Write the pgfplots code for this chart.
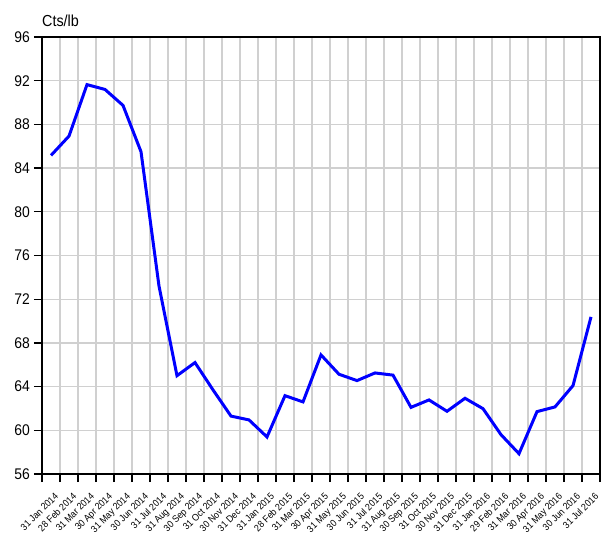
\documentclass[border=0pt]{standalone}
\usepackage{fontspec}
\setmainfont{Liberation Sans}[FakeStretch=0.9]
\usepackage{pgfplots}
\pgfplotsset{compat=1.18}
\definecolor{gridgray}{RGB}{208,208,208}
\begin{document}
\begin{tikzpicture}
\begin{axis}[
  name=ax,
  scale only axis,
  width=558bp, height=437bp,
  xmin=-0.5, xmax=30.5,
  ymin=56, ymax=96,
  ytick={56,60,...,96},
  xtick={-0.5,0.5,...,30.5},
  xticklabels={,31 Jan 2014,28 Feb 2014,31 Mar 2014,30 Apr 2014,31 May 2014,30 Jun 2014,31 Jul 2014,31 Aug 2014,30 Sep 2014,31 Oct 2014,30 Nov 2014,31 Dec 2014,31 Jan 2015,28 Feb 2015,31 Mar 2015,30 Apr 2015,31 May 2015,30 Jun 2015,31 Jul 2015,31 Aug 2015,30 Sep 2015,31 Oct 2015,30 Nov 2015,31 Dec 2015,31 Jan 2016,29 Feb 2016,31 Mar 2016,30 Apr 2016,31 May 2016,30 Jun 2016,31 Jul 2016},
  xtick pos=lower, ytick pos=left,
  tick align=outside,
  major tick length=8bp,
  tick style={black, line width=1.3bp},
  xmajorgrids, ymajorgrids,
  grid style={gridgray, line width=1.2bp},
  axis line style={black, line width=1.8bp},
  /pgf/number format/assume math mode=true,
  yticklabel style={font=\fontsize{15.5}{18}\selectfont, anchor=east, inner sep=0pt, xshift=-4bp},
  xticklabel style={font=\fontsize{9.8}{12}\selectfont, xshift=-6bp, yshift=-10bp, rotate=45, anchor=north east, inner sep=0pt},
  clip=false,
]
\addplot[color={rgb,255:red,0;green,0;blue,255}, line width=3bp] coordinates {
(0,85.16) (1,86.93) (2,91.64) (3,91.2) (4,89.74) (5,85.5) (6,73.2) (7,65.0)
(8,66.2) (9,63.7) (10,61.3) (11,60.95) (12,59.39) (13,63.17) (14,62.6)
(15,66.9) (16,65.13) (17,64.55) (18,65.25) (19,65.05) (20,62.1) (21,62.78)
(22,61.74) (23,62.93) (24,61.98) (25,59.6) (26,57.86) (27,61.71) (28,62.14)
(29,64.09) (30,70.38)
};
\end{axis}
\node[anchor=base west, inner sep=0pt, font=\fontsize{16}{18}\selectfont] at ([yshift=10bp]ax.north west) {Cts/lb};
\pgfresetboundingbox
\path ([xshift=-42bp,yshift=-59bp]ax.south west) rectangle ([xshift=11bp,yshift=37bp]ax.north east);
\end{tikzpicture}
\end{document}
